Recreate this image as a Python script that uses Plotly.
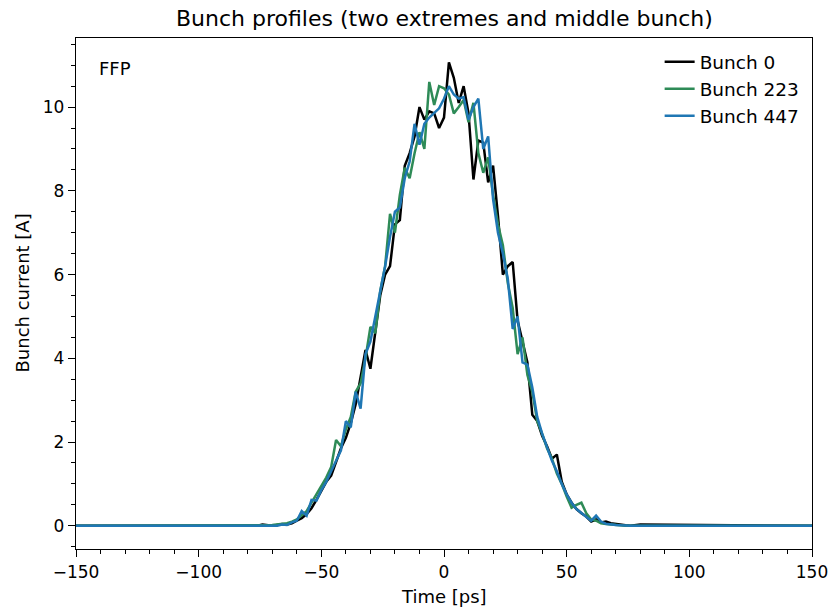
import plotly.graph_objects as go

# Time axis [ps] (2 ps bins) plus flat end points
time_ps = [-150,
           -76, -74, -72, -70, -68, -66, -64, -62, -60, -58, -56, -54, -52, -50,
           -48, -46, -44, -42, -40, -38, -36, -34, -32, -30, -28, -26, -24, -22,
           -20, -18, -16, -14, -12, -10, -8, -6, -4, -2, 0, 2, 4, 6, 8, 10, 12,
           14, 16, 18, 20, 22, 24, 26, 28, 30, 32, 34, 36, 38, 40, 42, 44, 46,
           48, 50, 52, 54, 56, 58, 60, 62, 64, 66, 68, 70, 72, 74, 76, 78, 80,
           150]

bunch_0 = [0,
           0, 0.03, 0.01, 0, 0.02, 0.04, 0.03, 0.06, 0.12, 0.18, 0.28, 0.42, 0.62, 0.85,
           1.05, 1.2, 1.55, 1.85, 2.1, 2.45, 2.9, 3.6, 4.2, 3.75, 4.6, 5.5, 6.0, 6.2,
           7.2, 7.3, 8.6, 8.9, 9.3, 10.0, 9.7, 9.9, 9.85, 9.5, 9.75, 11.07, 10.7, 10.1, 10.5, 9.85, 8.27,
           9.2, 9.15, 8.2, 8.6, 7.4, 6.0, 6.2, 6.3, 4.9, 4.4, 3.9, 2.65, 2.5, 2.15, 1.9, 1.6, 1.7,
           1.05, 0.75, 0.55, 0.4, 0.3, 0.22, 0.1, 0.15, 0.08, 0.1, 0.06, 0.04, 0.02, 0.01, 0, 0.02, 0.03,
           0]

bunch_223 = [0,
             0, 0, 0.01, 0.02, 0.03, 0.05, 0.06, 0.1, 0.15, 0.25, 0.35, 0.55, 0.75, 0.95,
             1.15, 1.4, 2.05, 1.9, 2.3, 2.6, 3.2, 3.4, 4.0, 4.75, 4.6, 5.6, 6.2, 7.45,
             7.0, 7.9, 8.55, 8.3, 8.9, 9.4, 9.0, 10.6, 10.05, 10.5, 10.45, 10.3, 9.85, 10.0, 10.17, 9.64, 10.1,
             8.9, 8.43, 8.8, 7.9, 7.2, 6.7, 5.8, 5.2, 4.1, 4.5, 3.6, 3.2, 2.5, 2.2, 1.85, 1.6, 1.25,
             1.0, 0.7, 0.43, 0.5, 0.55, 0.3, 0.15, 0.12, 0.06, 0.04, 0.03, 0.01, 0, 0, 0, 0, 0,
             0]

bunch_447 = [0,
             0, 0, 0, 0.01, 0, 0.03, 0.02, 0.08, 0.12, 0.35, 0.24, 0.62, 0.6, 0.85,
             1.05, 1.3, 1.55, 1.8, 2.5, 2.35, 3.2, 2.8, 4.1, 4.4, 5.0, 5.6, 6.2, 6.9,
             7.5, 7.6, 8.3, 8.7, 9.6, 9.1, 9.6, 9.75, 9.85, 9.97, 10.2, 10.5, 10.3, 10.2, 10.24, 9.7, 10.0,
             10.2, 9.0, 9.3, 7.8, 7.0, 6.5, 5.9, 4.7, 5.0, 3.9, 3.85, 3.3, 2.6, 2.2, 1.85, 1.55, 1.3,
             1.0, 0.75, 0.55, 0.4, 0.3, 0.2, 0.12, 0.24, 0.1, 0.05, 0.03, 0.02, 0.01, 0, 0, 0, 0,
             0]

series_names = ["Bunch 0", "Bunch 223", "Bunch 447"]
series_colors = ["#000000", "#2e8b57", "#1f77b4"]
series_values = [bunch_0, bunch_223, bunch_447]

x_ticks = [-150, -100, -50, 0, 50, 100, 150]
x_tick_text = ["\u2212150", "\u2212100", "\u221250", "0", "50", "100", "150"]
y_ticks = [0, 2, 4, 6, 8, 10]

FONT = "DejaVu Sans"

fig = go.Figure()
for name, col, vals in zip(series_names, series_colors, series_values):
    fig.add_trace(go.Scatter(x=time_ps, y=vals, mode="lines", name=name,
                             line=dict(color=col, width=2.5)))

axis_common = dict(showline=True, linecolor="black", linewidth=1.3, mirror=True,
                   ticks="outside", ticklen=7, tickwidth=1.3, tickcolor="black",
                   showgrid=False, zeroline=False, automargin=False,
                   tickfont=dict(family=FONT, size=17, color="black"))

fig.update_xaxes(range=[-150, 150], tickvals=x_ticks, ticktext=x_tick_text,
                 minor=dict(dtick=10, ticks="outside", ticklen=4, tickwidth=1.1, tickcolor="black"),
                 **axis_common)
fig.update_yaxes(range=[-0.555, 11.65], tickvals=y_ticks,
                 minor=dict(dtick=0.5, tick0=0, ticks="outside", ticklen=4, tickwidth=1.1, tickcolor="black"),
                 **axis_common)

fig.update_layout(
    width=831, height=608,
    margin=dict(l=76, r=19, t=38, b=59, autoexpand=False),
    plot_bgcolor="white", paper_bgcolor="white",
    font=dict(family=FONT, color="black"),
    showlegend=True,
    legend=dict(x=0.99, y=0.99, xanchor="right", yanchor="top",
                bgcolor="rgba(255,255,255,0)", font=dict(family=FONT, size=18.5),
                tracegroupgap=0),
    annotations=[
        dict(text="Bunch profiles (two extremes and middle bunch)", x=0.5, y=1, xref="paper", yref="paper",
             xanchor="center", yanchor="bottom", yshift=5, showarrow=False,
             font=dict(family=FONT, size=22, color="black")),
        dict(text="Time [ps]", x=0.5, y=0, xref="paper", yref="paper",
             xanchor="center", yanchor="top", yshift=-35, showarrow=False,
             font=dict(family=FONT, size=18, color="black")),
        dict(text="Bunch current [A]", x=0, y=0.5, xref="paper", yref="paper",
             xanchor="center", yanchor="middle", xshift=-54, textangle=-90, showarrow=False,
             font=dict(family=FONT, size=18, color="black")),
        dict(text="FFP", x=0.028, y=0.94, xref="paper", yref="paper",
             xanchor="left", yanchor="middle", showarrow=False,
             font=dict(family=FONT, size=18, color="black")),
    ],
)

fig.write_html("out.html")
